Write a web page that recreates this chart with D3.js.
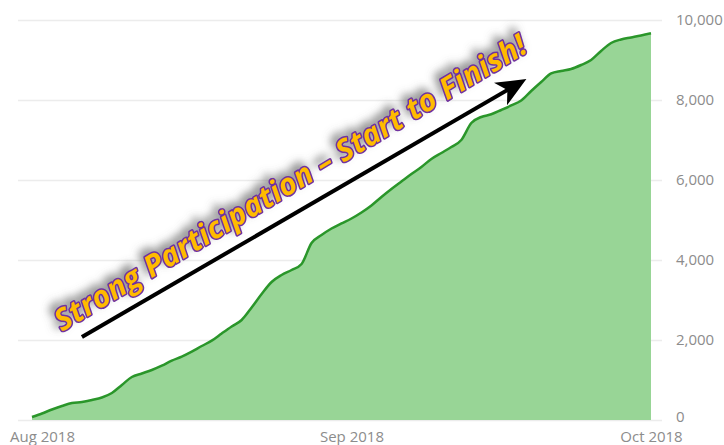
<!DOCTYPE html>
<html>
<head>
<meta charset="utf-8">
<script src="https://cdn.jsdelivr.net/npm/d3@7"></script>
<style>
  body { margin: 0; background: #fff; }
</style>
</head>
<body>
<div id="chart"></div>
<script>
// daily running total of participants, starting Jul 31 2018
var firstDay = "2018-07-31";
var lastDay = "2018-10-01";
var totals = [
  75, 163, 263, 350, 425, 450, 500, 563, 675, 875,
  1075, 1163, 1250, 1358, 1483, 1583, 1708, 1850, 1983, 2163,
  2338, 2500, 2813, 3150, 3450, 3625, 3750, 3900, 4425, 4625,
  4788, 4913, 5038, 5188, 5363, 5575, 5775, 5963, 6150, 6325,
  6525, 6675, 6825, 7000, 7425, 7575, 7643, 7750, 7863, 7988,
  8225, 8450, 8663, 8725, 8775, 8875, 9000, 9225, 9425, 9513,
  9563, 9613, 9668
];
var yTicks = [0, 2000, 4000, 6000, 8000, 10000];
var xTicks = ["2018-08-01", "2018-09-01", "2018-10-01"];

// annotation
var noteText = "Strong Participation \u2013 Start to Finish!";
var noteAt = ["2018-08-03", 2200];
var arrowFrom = ["2018-08-05", 2075];
var arrowTo = ["2018-09-18", 8450];

var width = 724, height = 445;
var parse = d3.timeParse("%Y-%m-%d");

var days = d3.timeDay.range(parse(firstDay), d3.timeDay.offset(parse(lastDay), 1));
var data = days.map(function(d, i) { return {date: d, value: totals[i]}; });

var svg = d3.select("#chart")
    .append("svg")
    .attr("width", width)
    .attr("height", height);

var x = d3.scaleTime()
    .domain([parse(firstDay), parse(lastDay)])
    .range([32, 651]);

var y = d3.scaleLinear()
    .domain([0, 10000])
    .range([420, 20]);

// gridlines + right hand labels
var yAxis = svg.append("g")
    .attr("transform", "translate(662,0)")
    .call(d3.axisRight(y)
        .tickValues(yTicks)
        .tickSize(-(662 - 18))
        .tickPadding(14)
        .tickFormat(d3.format(",")));
yAxis.select(".domain").remove();
yAxis.selectAll(".tick line").attr("stroke", "#ececec").attr("stroke-width", 1.5);
yAxis.selectAll(".tick text")
    .attr("fill", "#8c8c8c")
    .attr("font-family", "Open Sans")
    .attr("font-size", 15);
yAxis.selectAll(".tick text").filter(function(d) { return d === 0; })
    .attr("dy", "0.1em");

// area + line
var area = d3.area()
    .x(function(d) { return x(d.date); })
    .y0(y(0))
    .y1(function(d) { return y(d.value); })
    .curve(d3.curveMonotoneX);

var line = d3.line()
    .x(function(d) { return x(d.date); })
    .y(function(d) { return y(d.value); })
    .curve(d3.curveMonotoneX);

svg.append("path")
    .datum(data)
    .attr("fill", "#98d596")
    .attr("d", area);

svg.append("path")
    .datum(data)
    .attr("fill", "none")
    .attr("stroke", "#2a962a")
    .attr("stroke-width", 2.5)
    .attr("stroke-linejoin", "round")
    .attr("d", line);

// bottom labels
var xAxis = svg.append("g")
    .attr("transform", "translate(0,420)")
    .call(d3.axisBottom(x)
        .tickValues(xTicks.map(parse))
        .tickSize(0)
        .tickPadding(11)
        .tickFormat(d3.timeFormat("%b %Y")));
xAxis.select(".domain").remove();
xAxis.selectAll(".tick text")
    .attr("fill", "#8c8c8c")
    .attr("font-family", "Open Sans")
    .attr("font-size", 15);

// arrow
var defs = svg.append("defs");
defs.append("marker")
    .attr("id", "head")
    .attr("markerUnits", "userSpaceOnUse")
    .attr("viewBox", "0 -13 30 26")
    .attr("refX", 24)
    .attr("refY", 0)
    .attr("markerWidth", 30)
    .attr("markerHeight", 26)
    .attr("orient", "auto")
    .append("path")
    .attr("d", "M0,-13L30,0L0,13L8,0Z")
    .attr("fill", "#000");

svg.append("line")
    .attr("x1", x(parse(arrowFrom[0])))
    .attr("y1", y(arrowFrom[1]))
    .attr("x2", x(parse(arrowTo[0])))
    .attr("y2", y(arrowTo[1]))
    .attr("stroke", "#000")
    .attr("stroke-width", 4)
    .attr("marker-end", "url(#head)");

// headline text with soft shadow
var shadow = defs.append("filter")
    .attr("id", "shadow")
    .attr("x", "-20%").attr("y", "-20%")
    .attr("width", "140%").attr("height", "140%");
shadow.append("feDropShadow")
    .attr("dx", -5)
    .attr("dy", -4)
    .attr("stdDeviation", 4)
    .attr("flood-color", "#666")
    .attr("flood-opacity", 0.75);

svg.append("g")
    .attr("filter", "url(#shadow)")
    .append("text")
    .attr("transform", "translate(" + x(parse(noteAt[0])) + "," + y(noteAt[1]) + ") rotate(-31)")
    .attr("font-family", "Open Sans")
    .attr("font-style", "italic")
    .attr("font-weight", "bold")
    .attr("font-size", 30)
    .attr("textLength", 545)
    .attr("lengthAdjust", "spacing")
    .attr("fill", "#ffbb00")
    .attr("stroke", "#7030a0")
    .attr("stroke-width", 3)
    .attr("paint-order", "stroke")
    .attr("stroke-linejoin", "round")
    .text(noteText);
</script>
</body>
</html>
